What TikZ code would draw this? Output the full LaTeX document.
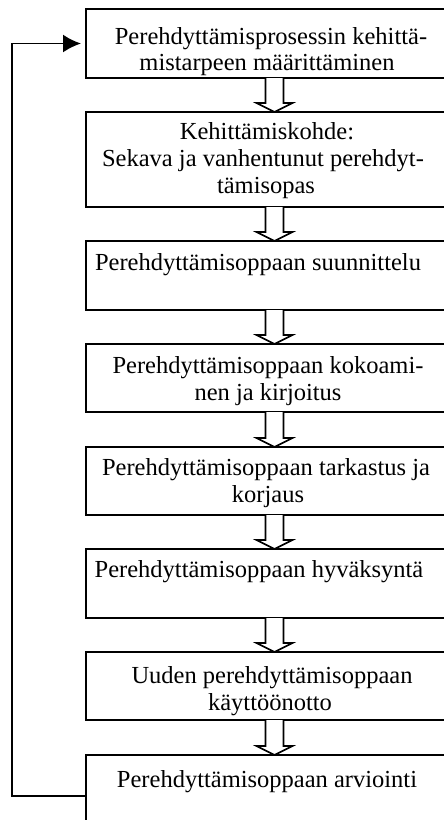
\documentclass[tikz,border=0pt]{standalone}
\usepackage{fontspec}
\setmainfont{Liberation Serif}
\usetikzlibrary{calc,arrows.meta}

\tikzset{
  stagebox/.style={draw, line width=2pt, inner sep=0pt, outer sep=0pt,
    minimum width=377pt, anchor=north},
  steptext/.style={anchor=base, inner sep=0pt, font=\fontsize{24.5}{27}\selectfont},
  hollowarrow/.style={draw, line width=1.7pt, fill=white, line join=miter},
  feedback/.style={draw, line width=1.9pt,
    -{Latex[length=18pt,width=18pt]}},
}

% Outline block arrow from the bottom of one box to the top of the next
\newcommand\hollowdown[2]{%
  \draw[hollowarrow] let \p1=(#1.south), \p2=(#2.north) in
    (\x1-9pt,\y1) -- (\x1-9pt,\y2+9pt) -- (\x1-18pt,\y2+9pt) -- (\x1,\y2)
    -- (\x1+18pt,\y2+9pt) -- (\x1+9pt,\y2+9pt) -- (\x1+9pt,\y1);}

\begin{document}
\begin{tikzpicture}[x=1pt,y=1pt]
\useasboundingbox (0,0) rectangle (444,-820);
\clip (0,0) rectangle (444,-820);

% process stages
\node[stagebox, minimum height=69pt]  (b1) at (274.5,-9)   {};
\node[stagebox, minimum height=95pt]  (b2) at (274.5,-112) {};
\node[stagebox, minimum height=69pt]  (b3) at (274.5,-241) {};
\node[stagebox, minimum height=68pt]  (b4) at (274.5,-344) {};
\node[stagebox, minimum height=68pt]  (b5) at (274.5,-447) {};
\node[stagebox, minimum height=69pt]  (b6) at (274.5,-549) {};
\node[stagebox, minimum height=68pt]  (b7) at (274.5,-652) {};
\node[stagebox, minimum height=100pt] (b8) at (274.5,-755) {};

% stage texts
\node[steptext] (t1a) at (271,-44)  {Perehdyttämisprosessin kehittä-};
\node[steptext] (t1b) at (267,-70)  {mistarpeen määrittäminen};
\node[steptext] (t2a) at (267,-139) {Kehittämiskohde:};
\node[steptext] (t2b) at (263,-166) {Sekava ja vanhentunut perehdyt-};
\node[steptext] (t2c) at (266,-193) {tämisopas};
\node[steptext] (t3)  at (258,-270) {Perehdyttämisoppaan suunnittelu};
\node[steptext] (t4a) at (268,-373) {Perehdyttämisoppaan kokoami-};
\node[steptext] (t4b) at (268,-400) {nen ja kirjoitus};
\node[steptext] (t5a) at (266,-475) {Perehdyttämisoppaan tarkastus ja};
\node[steptext] (t5b) at (268,-502) {korjaus};
\node[steptext] (t6)  at (259,-577) {Perehdyttämisoppaan hyväksyntä};
\node[steptext] (t7a) at (272,-683) {Uuden perehdyttämisoppaan};
\node[steptext] (t7b) at (270,-710) {käyttöönotto};
\node[steptext] (t8)  at (267,-787) {Perehdyttämisoppaan arviointi};

% flow between stages
\hollowdown{b1}{b2}
\hollowdown{b2}{b3}
\hollowdown{b3}{b4}
\hollowdown{b4}{b5}
\hollowdown{b5}{b6}
\hollowdown{b6}{b7}
\hollowdown{b7}{b8}

% return loop from evaluation back to the first stage
\coordinate (fbstart) at ($(b8.north west)+(0,-41)$);
\draw[feedback] (fbstart) -- ++(-74,0) |- ([xshift=-5pt]b1.west);
\end{tikzpicture}
\end{document}
